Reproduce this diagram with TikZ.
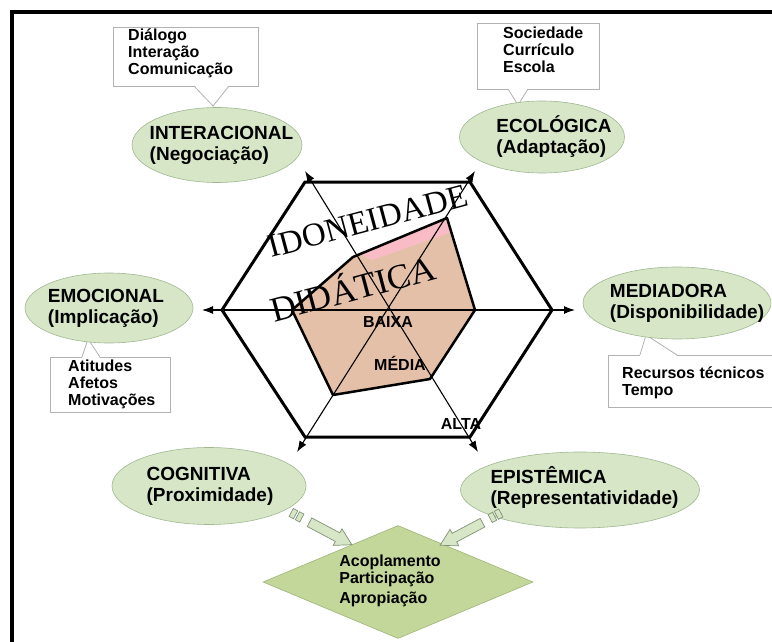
\documentclass[tikz,border=0pt]{standalone}
\usepackage{fontspec}
\setmainfont{Liberation Sans}
\newfontfamily\titlefont{Liberation Serif}
\usetikzlibrary{shapes.geometric,shapes.arrows,calc,arrows.meta,positioning}
\definecolor{ellgreen}{RGB}{214,230,199}
\definecolor{ellline}{RGB}{160,184,146}
\definecolor{diagreen}{RGB}{196,215,155}
\definecolor{dialine}{RGB}{158,180,118}
\definecolor{tanfill}{RGB}{229,192,168}
\definecolor{pinkfill}{RGB}{249,188,198}
\definecolor{boxline}{RGB}{178,178,178}

\begin{document}
\begin{tikzpicture}[x=1pt, y=-1pt, >={Latex[length=11pt,width=8pt]},
  ell/.style={ellipse, draw=ellline, fill=ellgreen, inner sep=0pt, line width=.6pt},
  elltxt/.style={font=\fontsize{19}{21}\selectfont\bfseries, align=left, inner sep=0pt},
  callout/.style={draw=boxline, fill=white, line width=.8pt, inner sep=0pt, anchor=north west},
  calltxt/.style={font=\fontsize{16}{17}\selectfont\bfseries, align=left, inner sep=0pt},
  level/.style={font=\fontsize{16}{16}\selectfont\bfseries, inner sep=0pt},
  wordart/.style={font=\titlefont\fontsize{#1}{#1}\selectfont, inner sep=0pt, rotate=15},
  dia/.style={diamond, draw=dialine, fill=diagreen, inner sep=0pt, line width=.6pt},
  blockarr/.style={single arrow, draw=ellline!80!black, fill=ellgreen, line width=.7pt, inner xsep=0pt, inner ysep=4.5pt, single arrow head extend=4.5pt, single arrow tip angle=60, minimum height=48pt},
  tailbit/.style={draw=ellline!80!black, fill=ellgreen, line width=.7pt, inner sep=0pt, minimum width=5pt, minimum height=9pt}]
\useasboundingbox (0,0) rectangle (772,642);
\draw[line width=4pt] (12,650) -- (12,12) -- (780,12);

\coordinate (h1) at (305,182);
\coordinate (h2) at (470,182);
\coordinate (h3) at (552,310);
\coordinate (h4) at (470,437);
\coordinate (h5) at (305,437);
\coordinate (h6) at (222,310);
\draw[line width=3pt] (h1) -- (h2) -- (h3) -- (h4) -- (h5) -- (h6) -- cycle;

\coordinate (p1) at (447,218);
\coordinate (p2) at (475,310);
\coordinate (p3) at (430,379);
\coordinate (p4) at (333,395);
\coordinate (p5) at (292,310);
\coordinate (p6) at (353,257);
\fill[tanfill] (p1) -- (p2) -- (p3) -- (p4) -- (p5) -- (p6) -- cycle;
\begin{scope}
  \clip (p1) -- (p2) -- (p3) -- (p4) -- (p5) -- (p6) -- cycle;
  \fill[pinkfill] (360,254) -- (449,216) -- (452,232) -- (372,260) -- cycle;
\end{scope}

\coordinate (a1) at (305,171);
\coordinate (a2) at (475,171);
\coordinate (a3) at (575,310);
\coordinate (a4) at (478,452);
\coordinate (a5) at (297,452);
\coordinate (a6) at (202,310);
\draw[<->, line width=1.1pt] (a1) -- (a4);
\draw[<->, line width=1.1pt] (a2) -- (a5);
\draw[<->, line width=1.1pt] (a6) -- (a3);
\draw[line width=2.5pt, line join=round] (p1) -- (p2) -- (p3) -- (p4) -- (p5) -- (p6) -- cycle;

\node[wordart=33] (idon) at (368,221) {IDONEIDADE};
\node[wordart=35] (didat) at (352,286) {DIDÁTICA};
\node[level] (baixa) at (388,322) {BAIXA};
\node[level] (media) at (400,363) {MÉDIA};
\node[level] (alta) at (461,424) {ALTA};

\node[callout, minimum width=145pt, minimum height=59pt] (cinter) at (113,27) {};
\node[calltxt, below right=2pt and 15pt of cinter.north west] (tinter) {Diálogo\\Interação\\Comunicação};
\fill[white] (194,85) -- (213,106) -- (229,85) -- cycle;
\draw[boxline, line width=.8pt] (194,86) -- (213,106) -- (229,86);

\node[callout, minimum width=122pt, minimum height=66pt] (ceco) at (477,23) {};
\node[calltxt, below right=4pt and 26pt of ceco.north west] (teco) {Sociedade\\Currículo\\Escola};
\fill[white] (508,88) -- (518,105) -- (528,88) -- cycle;
\draw[boxline, line width=.8pt] (508,89) -- (518,105) -- (528,89);

\node[callout, minimum width=120pt, minimum height=55pt] (cemo) at (50,357) {};
\node[calltxt, below right=3pt and 18pt of cemo.north west] (temo) {Atitudes\\Afetos\\Motivações};
\fill[white] (82,358) -- (88,339) -- (100,358) -- cycle;
\draw[boxline, line width=.8pt] (82,357) -- (88,339) -- (100,357);

\node[callout, minimum width=185pt, minimum height=52pt] (cmed) at (608,355) {};
\node[calltxt, below right=12pt and 14pt of cmed.north west] (tmed) {Recursos técnicos\\Tempo};
\fill[white] (640,356) -- (646,335) -- (677,356) -- cycle;
\draw[boxline, line width=.8pt] (640,355) -- (646,335) -- (677,355);

\node[ell, minimum width=170pt, minimum height=75pt, label={[elltxt, xshift=4.5pt]center:{INTERACIONAL\\(Negociação)}}] (inter) at (217,145) {};
\node[ell, minimum width=165pt, minimum height=72pt, label={[elltxt, xshift=12pt]center:{ECOLÓGICA\\(Adaptação)}}] (eco) at (542,137) {};
\node[ell, minimum width=168pt, minimum height=70pt, label={[elltxt, xshift=-3pt]center:{EMOCIONAL\\(Implicação)}}] (emo) at (109,308) {};
\node[ell, minimum width=188pt, minimum height=72pt, label={[elltxt, xshift=10pt]center:{MEDIADORA\\(Disponibilidade)}}] (med) at (677,303) {};
\node[ell, minimum width=194pt, minimum height=77pt, label={[elltxt, xshift=1pt]center:{COGNITIVA\\(Proximidade)}}] (cog) at (209,486) {};
\node[ell, minimum width=239pt, minimum height=76pt, label={[elltxt, xshift=4.5pt, yshift=3pt]center:{EPISTÊMICA\\(Representatividade)}}] (epi) at (580,490) {};

\node[dia, minimum width=270pt, minimum height=113pt, label={[calltxt, xshift=-8pt, yshift=1.5pt]center:{Acoplamento\\Participação\\[3pt]Apropiação}}] (acop) at (398,582) {};

\node[blockarr, rotate=-28] (arrcog) at (327,531.5) {};
\node[tailbit, rotate=-28] (tcog1) at (293.4,513.6) {};
\node[tailbit, rotate=-28] (tcog2) at (299.6,516.9) {};
\node[blockarr, rotate=-152] (arrepi) at (465,532) {};
\node[tailbit, rotate=-152] (tepi1) at (498.6,514.1) {};
\node[tailbit, rotate=-152] (tepi2) at (492.4,517.4) {};
\end{tikzpicture}
\end{document}
